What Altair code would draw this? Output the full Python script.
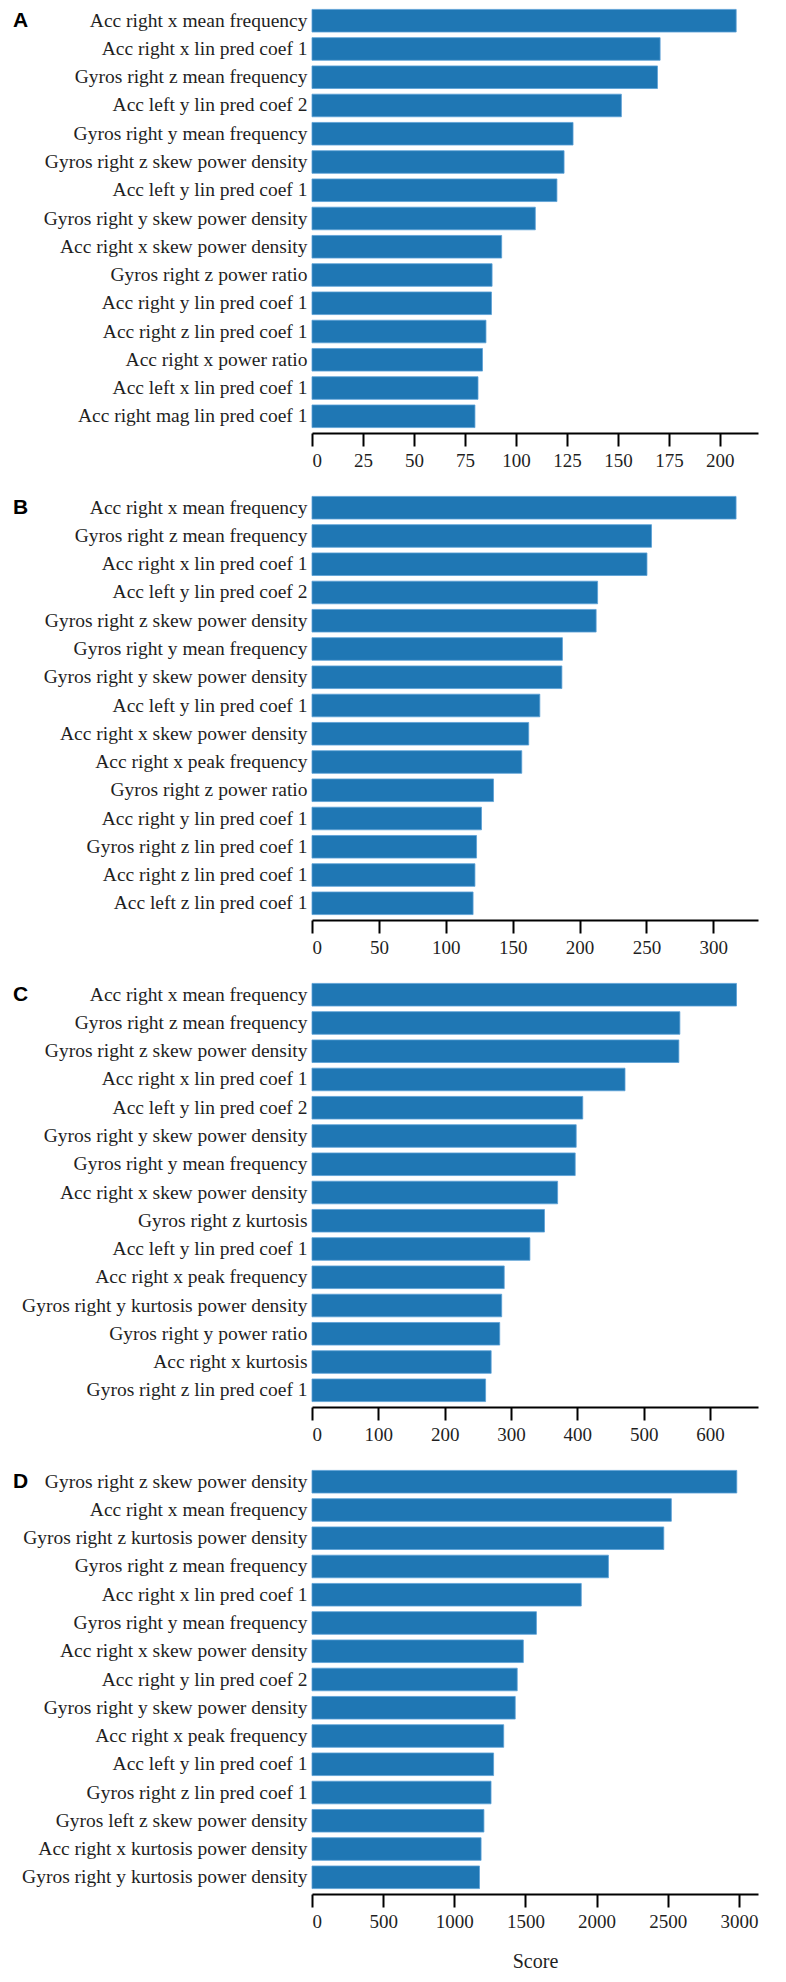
import altair as alt
import pandas as pd

# ---- Panel A ----
labels_a = [
    "Acc right x mean frequency", "Acc right x lin pred coef 1", "Gyros right z mean frequency",
    "Acc left y lin pred coef 2", "Gyros right y mean frequency", "Gyros right z skew power density",
    "Acc left y lin pred coef 1", "Gyros right y skew power density", "Acc right x skew power density",
    "Gyros right z power ratio", "Acc right y lin pred coef 1", "Acc right z lin pred coef 1",
    "Acc right x power ratio", "Acc left x lin pred coef 1", "Acc right mag lin pred coef 1",
]
scores_a = [208.0, 170.7, 169.4, 151.7, 128.0, 123.6, 120.1, 109.5, 93.0, 88.3, 88.0, 85.3, 83.6, 81.4, 79.9]
ticks_a = [0, 25, 50, 75, 100, 125, 150, 175, 200]
xmax_a = 218.7

# ---- Panel B ----
labels_b = [
    "Acc right x mean frequency", "Gyros right z mean frequency", "Acc right x lin pred coef 1",
    "Acc left y lin pred coef 2", "Gyros right z skew power density", "Gyros right y mean frequency",
    "Gyros right y skew power density", "Acc left y lin pred coef 1", "Acc right x skew power density",
    "Acc right x peak frequency", "Gyros right z power ratio", "Acc right y lin pred coef 1",
    "Gyros right z lin pred coef 1", "Acc right z lin pred coef 1", "Acc left z lin pred coef 1",
]
scores_b = [317.0, 253.8, 250.4, 213.5, 212.4, 187.2, 186.8, 170.3, 162.0, 156.8, 135.7, 126.7, 123.0, 121.8, 120.4]
ticks_b = [0, 50, 100, 150, 200, 250, 300]
xmax_b = 333.4

# ---- Panel C ----
labels_c = [
    "Acc right x mean frequency", "Gyros right z mean frequency", "Gyros right z skew power density",
    "Acc right x lin pred coef 1", "Acc left y lin pred coef 2", "Gyros right y skew power density",
    "Gyros right y mean frequency", "Acc right x skew power density", "Gyros right z kurtosis",
    "Acc left y lin pred coef 1", "Acc right x peak frequency", "Gyros right y kurtosis power density",
    "Gyros right y power ratio", "Acc right x kurtosis", "Gyros right z lin pred coef 1",
]
scores_c = [640.0, 554.6, 553.1, 471.9, 408.2, 398.3, 396.8, 370.3, 350.5, 328.5, 289.8, 286.0, 283.0, 270.1, 261.7]
ticks_c = [0, 100, 200, 300, 400, 500, 600]
xmax_c = 672.4

# ---- Panel D ----
labels_d = [
    "Gyros right z skew power density", "Acc right x mean frequency", "Gyros right z kurtosis power density",
    "Gyros right z mean frequency", "Acc right x lin pred coef 1", "Gyros right y mean frequency",
    "Acc right x skew power density", "Acc right y lin pred coef 2", "Gyros right y skew power density",
    "Acc right x peak frequency", "Acc left y lin pred coef 1", "Gyros right z lin pred coef 1",
    "Gyros left z skew power density", "Acc right x kurtosis power density", "Gyros right y kurtosis power density",
]
scores_d = [2985, 2525, 2472, 2083, 1892, 1577, 1485, 1442, 1428, 1347, 1276, 1258, 1208, 1188, 1177]
ticks_d = [0, 500, 1000, 1500, 2000, 2500, 3000]
xmax_d = 3134

letters = ["A", "B", "C", "D"]

BAR = "#1f77b4"
BAR_EDGE = "#5a9fd6"
SERIF = "Liberation Serif"
TXT = "#1f1f1f"


def panel(letter, labels, scores, ticks, xmax, show_title):
    df = pd.DataFrame({"feature": labels, "score": scores})
    x_kwargs = dict(
        scale=alt.Scale(domain=[0, xmax], nice=False, zero=True),
        axis=alt.Axis(
            values=ticks, format="d", grid=False, offset=4,
            domainColor="black", domainWidth=2.2,
            tickColor="black", tickWidth=2, tickSize=13,
            labelFont=SERIF, labelFontSize=19, labelColor=TXT, labelPadding=5,
            titleFont=SERIF, titleFontSize=20, titleFontWeight="normal", titleColor=TXT,
            titlePadding=20,
        ),
    )
    if show_title:
        x_enc = alt.X("score:Q", title="Score", **x_kwargs)
    else:
        x_enc = alt.X("score:Q", title=None, **x_kwargs)
    bars = alt.Chart(df).mark_bar(color=BAR, stroke=BAR_EDGE, strokeWidth=0.8).encode(
        y=alt.Y(
            "feature:N", sort=None, title=None,
            scale=alt.Scale(paddingInner=0.2, paddingOuter=0.05),
            axis=alt.Axis(
                domain=False, ticks=False, labelFont=SERIF, labelFontSize=19.5,
                labelColor=TXT, labelLimit=400, labelPadding=5,
            ),
        ),
        x=x_enc,
    )
    tag = alt.Chart(pd.DataFrame({"t": [letter]})).mark_text(
        align="left", baseline="alphabetic", font="Liberation Sans",
        fontWeight="bold", fontSize=21, color="black",
    ).encode(text="t:N", x=alt.value(-299), y=alt.value(18.5))
    return alt.layer(bars, tag).properties(width=446, height=421)


chart = alt.vconcat(
    panel(letters[0], labels_a, scores_a, ticks_a, xmax_a, False),
    panel(letters[1], labels_b, scores_b, ticks_b, xmax_b, False),
    panel(letters[2], labels_c, scores_c, ticks_c, xmax_c, False),
    panel(letters[3], labels_d, scores_d, ticks_d, xmax_d, True),
    spacing=25,
).properties(
    padding={"left": 5, "top": 0, "right": 5, "bottom": 0},
    background="white",
).configure_view(strokeWidth=0, stroke="transparent")

chart.save("out.html", embed_options={"renderer": "svg", "actions": False})
